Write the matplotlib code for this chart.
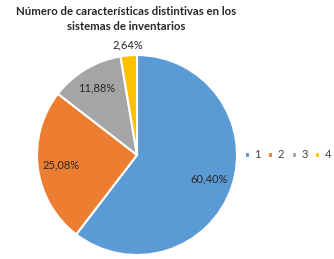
import matplotlib
matplotlib.use('Agg')
import matplotlib.pyplot as plt
import numpy as np

plt.rcParams['font.family'] = ['Lato', 'DejaVu Sans']

categorias = ['1', '2', '3', '4']
porcentajes = [60.40, 25.08, 11.88, 2.64]
colores = ['#5B9BD5', '#ED7D31', '#A5A5A5', '#FFC000']
titulo = 'Número de características distintivas en los\nsistemas de inventarios'

fig = plt.figure(figsize=(3.34, 2.59), dpi=100)
ax = fig.add_axes([37 / 334, 4 / 259, 200 / 334, 200 / 259])

wedges, textos = ax.pie(porcentajes, colors=colores, startangle=90, counterclock=False,
                        wedgeprops=dict(edgecolor='white', linewidth=1.5))

# posiciones de las etiquetas (fracción del radio)
distancias = [0.76, 0.77, 0.78, 1.10]
for w, p, d in zip(wedges, porcentajes, distancias):
    ang = np.deg2rad((w.theta1 + w.theta2) / 2)
    ax.text(d * np.cos(ang), d * np.sin(ang), f'{p:.2f}%'.replace('.', ','),
            ha='center', va='center', fontsize=8, color='#262626')

ax.set_xlim(-1, 1)
ax.set_ylim(-1, 1)
ax.set_aspect('equal')
ax.axis('off')

fig.text(126 / 334, 1 - 19 / 259, titulo, ha='center', va='center',
         fontsize=8.2, fontweight='bold', color='#262626', linespacing=1.4)

fig.legend(wedges, categorias, loc='center', bbox_to_anchor=(288 / 334, 1 - 155 / 259),
           ncol=4, frameon=False, fontsize=8, handlelength=0.45, handleheight=0.45,
           handletextpad=0.4, columnspacing=0.7, labelcolor='#404040')

fig.savefig('out.png', dpi=100)
